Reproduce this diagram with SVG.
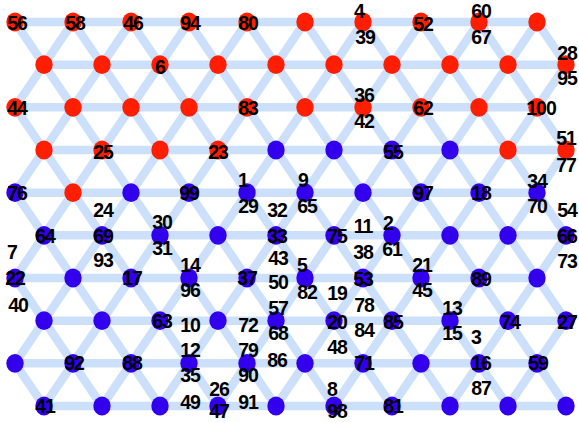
<svg xmlns="http://www.w3.org/2000/svg" width="579" height="423" viewBox="0 0 579 423">
<style>
.e{stroke:#cce0fc;stroke-width:8.5;fill:none;stroke-linecap:round}
.r{fill:#ff1e00}
.b{fill:#3300ee}
text{font-family:"Liberation Sans",Arial,sans-serif;font-weight:bold;font-size:19.5px;letter-spacing:-1px;fill:#000;text-anchor:middle}
</style>
<rect width="579" height="423" fill="#fff"/>
<g id="connectors" class="e">
<path d="M15 22H537M44 64.67H566M15 107.33H537M44 150H566M15 192.67H537M44 235.33H566M15 278H537M44 320.67H566M15 363.33H537M44 406H566"/>
<path d="M15 22L276 406M73 22L334 406M131 22L392 406M189 22L450 406M247 22L508 406M305 22L566 406M363 22L566 320.67M421 22L566 235.33M479 22L566 150M537 22L566 64.67M15 107.33L218 406M15 192.67L160 406M15 278L102 406M15 363.33L44 406"/>
<path d="M73 22L15 107.33M131 22L15 192.67M189 22L15 278M247 22L15 363.33M305 22L44 406M363 22L102 406M421 22L160 406M479 22L218 406M537 22L276 406M566 64.67L334 406M566 150L392 406M566 235.33L450 406M566 320.67L508 406"/>
</g>
<g id="nodes">
<g id="n0-0"><ellipse class="r" cx="15" cy="22" rx="8.7" ry="9.4"/></g>
<g id="n0-1"><ellipse class="r" cx="73" cy="22" rx="8.7" ry="9.4"/></g>
<g id="n0-2"><ellipse class="r" cx="131" cy="22" rx="8.7" ry="9.4"/></g>
<g id="n0-3"><ellipse class="r" cx="189" cy="22" rx="8.7" ry="9.4"/></g>
<g id="n0-4"><ellipse class="r" cx="247" cy="22" rx="8.7" ry="9.4"/></g>
<g id="n0-5"><ellipse class="r" cx="305" cy="22" rx="8.7" ry="9.4"/></g>
<g id="n0-6"><ellipse class="r" cx="363" cy="22" rx="8.7" ry="9.4"/></g>
<g id="n0-7"><ellipse class="r" cx="421" cy="22" rx="8.7" ry="9.4"/></g>
<g id="n0-8"><ellipse class="r" cx="479" cy="22" rx="8.7" ry="9.4"/></g>
<g id="n0-9"><ellipse class="r" cx="537" cy="22" rx="8.7" ry="9.4"/></g>
<g id="n1-0"><ellipse class="r" cx="44" cy="64.67" rx="8.7" ry="9.4"/></g>
<g id="n1-1"><ellipse class="r" cx="102" cy="64.67" rx="8.7" ry="9.4"/></g>
<g id="n1-2"><ellipse class="r" cx="160" cy="64.67" rx="8.7" ry="9.4"/></g>
<g id="n1-3"><ellipse class="r" cx="218" cy="64.67" rx="8.7" ry="9.4"/></g>
<g id="n1-4"><ellipse class="r" cx="276" cy="64.67" rx="8.7" ry="9.4"/></g>
<g id="n1-5"><ellipse class="r" cx="334" cy="64.67" rx="8.7" ry="9.4"/></g>
<g id="n1-6"><ellipse class="r" cx="392" cy="64.67" rx="8.7" ry="9.4"/></g>
<g id="n1-7"><ellipse class="r" cx="450" cy="64.67" rx="8.7" ry="9.4"/></g>
<g id="n1-8"><ellipse class="r" cx="508" cy="64.67" rx="8.7" ry="9.4"/></g>
<g id="n1-9"><ellipse class="r" cx="566" cy="64.67" rx="8.7" ry="9.4"/></g>
<g id="n2-0"><ellipse class="r" cx="15" cy="107.33" rx="8.7" ry="9.4"/></g>
<g id="n2-1"><ellipse class="r" cx="73" cy="107.33" rx="8.7" ry="9.4"/></g>
<g id="n2-2"><ellipse class="r" cx="131" cy="107.33" rx="8.7" ry="9.4"/></g>
<g id="n2-3"><ellipse class="r" cx="189" cy="107.33" rx="8.7" ry="9.4"/></g>
<g id="n2-4"><ellipse class="r" cx="247" cy="107.33" rx="8.7" ry="9.4"/></g>
<g id="n2-5"><ellipse class="r" cx="305" cy="107.33" rx="8.7" ry="9.4"/></g>
<g id="n2-6"><ellipse class="r" cx="363" cy="107.33" rx="8.7" ry="9.4"/></g>
<g id="n2-7"><ellipse class="r" cx="421" cy="107.33" rx="8.7" ry="9.4"/></g>
<g id="n2-8"><ellipse class="r" cx="479" cy="107.33" rx="8.7" ry="9.4"/></g>
<g id="n2-9"><ellipse class="r" cx="537" cy="107.33" rx="8.7" ry="9.4"/></g>
<g id="n3-0"><ellipse class="r" cx="44" cy="150" rx="8.7" ry="9.4"/></g>
<g id="n3-1"><ellipse class="r" cx="102" cy="150" rx="8.7" ry="9.4"/></g>
<g id="n3-2"><ellipse class="r" cx="160" cy="150" rx="8.7" ry="9.4"/></g>
<g id="n3-3"><ellipse class="r" cx="218" cy="150" rx="8.7" ry="9.4"/></g>
<g id="n3-4"><ellipse class="b" cx="276" cy="150" rx="8.7" ry="9.4"/></g>
<g id="n3-5"><ellipse class="b" cx="334" cy="150" rx="8.7" ry="9.4"/></g>
<g id="n3-6"><ellipse class="b" cx="392" cy="150" rx="8.7" ry="9.4"/></g>
<g id="n3-7"><ellipse class="b" cx="450" cy="150" rx="8.7" ry="9.4"/></g>
<g id="n3-8"><ellipse class="r" cx="508" cy="150" rx="8.7" ry="9.4"/></g>
<g id="n3-9"><ellipse class="r" cx="566" cy="150" rx="8.7" ry="9.4"/></g>
<g id="n4-0"><ellipse class="b" cx="15" cy="192.67" rx="8.7" ry="9.4"/></g>
<g id="n4-1"><ellipse class="r" cx="73" cy="192.67" rx="8.7" ry="9.4"/></g>
<g id="n4-2"><ellipse class="b" cx="131" cy="192.67" rx="8.7" ry="9.4"/></g>
<g id="n4-3"><ellipse class="b" cx="189" cy="192.67" rx="8.7" ry="9.4"/></g>
<g id="n4-4"><ellipse class="b" cx="247" cy="192.67" rx="8.7" ry="9.4"/></g>
<g id="n4-5"><ellipse class="b" cx="305" cy="192.67" rx="8.7" ry="9.4"/></g>
<g id="n4-6"><ellipse class="b" cx="363" cy="192.67" rx="8.7" ry="9.4"/></g>
<g id="n4-7"><ellipse class="b" cx="421" cy="192.67" rx="8.7" ry="9.4"/></g>
<g id="n4-8"><ellipse class="b" cx="479" cy="192.67" rx="8.7" ry="9.4"/></g>
<g id="n4-9"><ellipse class="b" cx="537" cy="192.67" rx="8.7" ry="9.4"/></g>
<g id="n5-0"><ellipse class="b" cx="44" cy="235.33" rx="8.7" ry="9.4"/></g>
<g id="n5-1"><ellipse class="b" cx="102" cy="235.33" rx="8.7" ry="9.4"/></g>
<g id="n5-2"><ellipse class="b" cx="160" cy="235.33" rx="8.7" ry="9.4"/></g>
<g id="n5-3"><ellipse class="b" cx="218" cy="235.33" rx="8.7" ry="9.4"/></g>
<g id="n5-4"><ellipse class="b" cx="276" cy="235.33" rx="8.7" ry="9.4"/></g>
<g id="n5-5"><ellipse class="b" cx="334" cy="235.33" rx="8.7" ry="9.4"/></g>
<g id="n5-6"><ellipse class="b" cx="392" cy="235.33" rx="8.7" ry="9.4"/></g>
<g id="n5-7"><ellipse class="b" cx="450" cy="235.33" rx="8.7" ry="9.4"/></g>
<g id="n5-8"><ellipse class="b" cx="508" cy="235.33" rx="8.7" ry="9.4"/></g>
<g id="n5-9"><ellipse class="b" cx="566" cy="235.33" rx="8.7" ry="9.4"/></g>
<g id="n6-0"><ellipse class="b" cx="15" cy="278" rx="8.7" ry="9.4"/></g>
<g id="n6-1"><ellipse class="b" cx="73" cy="278" rx="8.7" ry="9.4"/></g>
<g id="n6-2"><ellipse class="b" cx="131" cy="278" rx="8.7" ry="9.4"/></g>
<g id="n6-3"><ellipse class="b" cx="189" cy="278" rx="8.7" ry="9.4"/></g>
<g id="n6-4"><ellipse class="b" cx="247" cy="278" rx="8.7" ry="9.4"/></g>
<g id="n6-5"><ellipse class="b" cx="305" cy="278" rx="8.7" ry="9.4"/></g>
<g id="n6-6"><ellipse class="b" cx="363" cy="278" rx="8.7" ry="9.4"/></g>
<g id="n6-7"><ellipse class="b" cx="421" cy="278" rx="8.7" ry="9.4"/></g>
<g id="n6-8"><ellipse class="b" cx="479" cy="278" rx="8.7" ry="9.4"/></g>
<g id="n6-9"><ellipse class="b" cx="537" cy="278" rx="8.7" ry="9.4"/></g>
<g id="n7-0"><ellipse class="b" cx="44" cy="320.67" rx="8.7" ry="9.4"/></g>
<g id="n7-1"><ellipse class="b" cx="102" cy="320.67" rx="8.7" ry="9.4"/></g>
<g id="n7-2"><ellipse class="b" cx="160" cy="320.67" rx="8.7" ry="9.4"/></g>
<g id="n7-3"><ellipse class="b" cx="218" cy="320.67" rx="8.7" ry="9.4"/></g>
<g id="n7-4"><ellipse class="b" cx="276" cy="320.67" rx="8.7" ry="9.4"/></g>
<g id="n7-5"><ellipse class="b" cx="334" cy="320.67" rx="8.7" ry="9.4"/></g>
<g id="n7-6"><ellipse class="b" cx="392" cy="320.67" rx="8.7" ry="9.4"/></g>
<g id="n7-7"><ellipse class="b" cx="450" cy="320.67" rx="8.7" ry="9.4"/></g>
<g id="n7-8"><ellipse class="b" cx="508" cy="320.67" rx="8.7" ry="9.4"/></g>
<g id="n7-9"><ellipse class="b" cx="566" cy="320.67" rx="8.7" ry="9.4"/></g>
<g id="n8-0"><ellipse class="b" cx="15" cy="363.33" rx="8.7" ry="9.4"/></g>
<g id="n8-1"><ellipse class="b" cx="73" cy="363.33" rx="8.7" ry="9.4"/></g>
<g id="n8-2"><ellipse class="b" cx="131" cy="363.33" rx="8.7" ry="9.4"/></g>
<g id="n8-3"><ellipse class="b" cx="189" cy="363.33" rx="8.7" ry="9.4"/></g>
<g id="n8-4"><ellipse class="b" cx="247" cy="363.33" rx="8.7" ry="9.4"/></g>
<g id="n8-5"><ellipse class="b" cx="305" cy="363.33" rx="8.7" ry="9.4"/></g>
<g id="n8-6"><ellipse class="b" cx="363" cy="363.33" rx="8.7" ry="9.4"/></g>
<g id="n8-7"><ellipse class="b" cx="421" cy="363.33" rx="8.7" ry="9.4"/></g>
<g id="n8-8"><ellipse class="b" cx="479" cy="363.33" rx="8.7" ry="9.4"/></g>
<g id="n8-9"><ellipse class="b" cx="537" cy="363.33" rx="8.7" ry="9.4"/></g>
<g id="n9-0"><ellipse class="b" cx="44" cy="406" rx="8.7" ry="9.4"/></g>
<g id="n9-1"><ellipse class="b" cx="102" cy="406" rx="8.7" ry="9.4"/></g>
<g id="n9-2"><ellipse class="b" cx="160" cy="406" rx="8.7" ry="9.4"/></g>
<g id="n9-3"><ellipse class="b" cx="218" cy="406" rx="8.7" ry="9.4"/></g>
<g id="n9-4"><ellipse class="b" cx="276" cy="406" rx="8.7" ry="9.4"/></g>
<g id="n9-5"><ellipse class="b" cx="334" cy="406" rx="8.7" ry="9.4"/></g>
<g id="n9-6"><ellipse class="b" cx="392" cy="406" rx="8.7" ry="9.4"/></g>
<g id="n9-7"><ellipse class="b" cx="450" cy="406" rx="8.7" ry="9.4"/></g>
<g id="n9-8"><ellipse class="b" cx="508" cy="406" rx="8.7" ry="9.4"/></g>
<g id="n9-9"><ellipse class="b" cx="566" cy="406" rx="8.7" ry="9.4"/></g>
</g>
<g id="labels" transform="translate(0 0.5)">
<text x="17" y="29.5">56</text>
<text x="75" y="29.5">58</text>
<text x="133" y="29.5">46</text>
<text x="190" y="29.5">94</text>
<text x="248" y="29.5">80</text>
<text x="359" y="17.5">4</text>
<text x="365" y="43">39</text>
<text x="423" y="30.5">52</text>
<text x="481" y="17.5">60</text>
<text x="481" y="43.5">67</text>
<text x="160" y="73.5">6</text>
<text x="567" y="59.5">28</text>
<text x="567" y="84.5">95</text>
<text x="17" y="114.5">44</text>
<text x="248" y="114.5">83</text>
<text x="364" y="101.5">36</text>
<text x="364" y="127.5">42</text>
<text x="423" y="114.5">62</text>
<text x="541" y="114">100</text>
<text x="103" y="158.5">25</text>
<text x="218" y="158.5">23</text>
<text x="393" y="158.5">55</text>
<text x="566" y="144">51</text>
<text x="566" y="171">77</text>
<text x="17" y="199.5">76</text>
<text x="189" y="199.5">99</text>
<text x="243" y="186.5">1</text>
<text x="248" y="212.5">29</text>
<text x="303" y="186.5">9</text>
<text x="307" y="212.5">65</text>
<text x="423" y="199.5">97</text>
<text x="481" y="199.5">18</text>
<text x="537" y="187.5">34</text>
<text x="537" y="212.5">70</text>
<text x="103" y="216.5">24</text>
<text x="277" y="216.5">32</text>
<text x="567" y="216.5">54</text>
<text x="45" y="242.5">64</text>
<text x="103" y="242.5">69</text>
<text x="162" y="228.5">30</text>
<text x="162" y="254.5">31</text>
<text x="277" y="242.5">33</text>
<text x="337" y="242.5">75</text>
<text x="363" y="232.5">11</text>
<text x="388" y="229.5">2</text>
<text x="392" y="255.5">61</text>
<text x="363" y="258.5">38</text>
<text x="567" y="242.5">66</text>
<text x="12" y="258.5">7</text>
<text x="103" y="266.5">93</text>
<text x="278" y="264.5">43</text>
<text x="567" y="267.5">73</text>
<text x="190" y="271.5">14</text>
<text x="302" y="271.5">5</text>
<text x="422" y="271.5">21</text>
<text x="15" y="284.5">22</text>
<text x="132" y="284.5">17</text>
<text x="247" y="284.5">37</text>
<text x="278" y="288.5">50</text>
<text x="363" y="285.5">53</text>
<text x="481" y="285.5">89</text>
<text x="190" y="296.5">96</text>
<text x="307" y="298.5">82</text>
<text x="337" y="299.5">19</text>
<text x="422" y="296.5">45</text>
<text x="18" y="311.5">40</text>
<text x="364" y="311.5">78</text>
<text x="278" y="314.5">57</text>
<text x="452" y="314.5">13</text>
<text x="162" y="327.5">63</text>
<text x="190" y="331.5">10</text>
<text x="248" y="331.5">72</text>
<text x="337" y="328.5">20</text>
<text x="393" y="328.5">85</text>
<text x="510" y="328.5">74</text>
<text x="567" y="328.5">27</text>
<text x="364" y="336.5">84</text>
<text x="452" y="339.5">15</text>
<text x="278" y="339.5">68</text>
<text x="476" y="343.5">3</text>
<text x="337" y="353.5">48</text>
<text x="190" y="356.5">12</text>
<text x="248" y="356.5">79</text>
<text x="277" y="366.5">86</text>
<text x="74" y="369.5">92</text>
<text x="132" y="369.5">88</text>
<text x="364" y="369.5">71</text>
<text x="481" y="369.5">16</text>
<text x="538" y="369.5">59</text>
<text x="190" y="381.5">35</text>
<text x="248" y="381.5">90</text>
<text x="481" y="394.5">87</text>
<text x="332" y="395.8">8</text>
<text x="219" y="395.8">26</text>
<text x="190" y="408.5">49</text>
<text x="248" y="408.5">91</text>
<text x="45" y="412.5">41</text>
<text x="393" y="412.5">81</text>
<text x="219" y="417.8">47</text>
<text x="337" y="417.8">98</text>
</g>
</svg>
